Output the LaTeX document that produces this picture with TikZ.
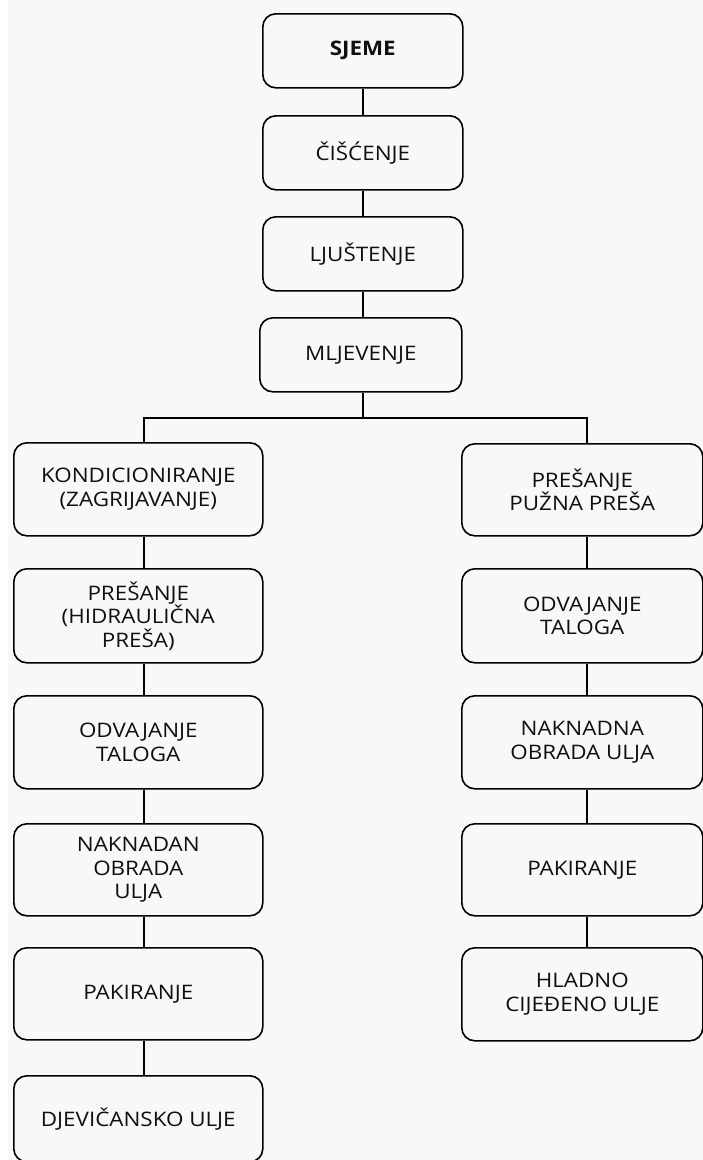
\documentclass[tikz,border=0pt]{standalone}
\usepackage{fontspec}
\setmainfont{Open Sans}[FakeStretch=1.12]
\definecolor{bg}{RGB}{248,248,248}
\definecolor{ink}{RGB}{15,15,15}
\begin{document}
\begin{tikzpicture}[x=1pt,y=-1pt,
  box/.style={draw=black, line width=1.6pt, rounded corners=13pt, align=center,
    font=\fontsize{20}{23.5}\selectfont, text=ink, inner sep=0pt, anchor=north west},
  topbox/.style={box, minimum width=200pt, minimum height=74pt},
  lbox/.style={box, minimum width=249pt},
  rbox/.style={box, minimum width=241pt},
  link/.style={line width=1.6pt, draw=black}]
\useasboundingbox (0,0) rectangle (703,1160);
\fill[white] (0,0) rectangle (703,1160);
\fill[bg] (8,0) rectangle (703,1160);
% top column
\node[topbox] (sjeme) at (262,13) {\textbf{SJEME}};
\node[topbox] (cis) at (262,115) {ČIŠĆENJE};
\node[topbox] (lju) at (262,216) {LJUŠTENJE};
\node[topbox, minimum width=202pt] (mlj) at (259,317) {MLJEVENJE};
% left column
\node[lbox, minimum height=93pt] (l1) at (13,442) {KONDICIONIRANJE\\(ZAGRIJAVANJE)};
\node[lbox, minimum height=94pt] (l2) at (13,568) {PREŠANJE\\(HIDRAULIČNA\\PREŠA)};
\node[lbox, minimum height=93pt] (l3) at (13,695) {ODVAJANJE\\TALOGA};
\node[lbox, minimum height=92pt] (l4) at (13,823) {NAKNADAN\\OBRADA\\ULJA};
\node[lbox, minimum height=92pt] (l5) at (13,947) {PAKIRANJE};
\node[lbox, minimum height=86pt] (l6) at (13,1075) {DJEVIČANSKO ULJE};
% right column
\node[rbox, minimum height=92pt] (r1) at (461,443) {PREŠANJE\\PUŽNA PREŠA};
\node[rbox, minimum height=94pt] (r2) at (461,568) {ODVAJANJE\\TALOGA};
\node[rbox, minimum height=93pt] (r3) at (461,695) {NAKNADNA\\OBRADA ULJA};
\node[rbox, minimum height=92pt] (r4) at (461,823) {PAKIRANJE};
\node[rbox, minimum height=93pt] (r5) at (461,947) {HLADNO\\CIJEĐENO ULJE};
% connectors
\coordinate (bl) at (144,418);
\coordinate (brr) at (587,418);
\draw[link] (sjeme) -- (cis);
\draw[link] (cis) -- (lju);
\draw[link] (lju.south) -- (lju.south |- mlj.north);
\draw[link] (lju.south |- mlj.south) -- (lju.south |- bl);
\draw[link] (l1.north -| bl) -- (bl) -- (brr) -- (r1.north -| brr);
\draw[link] (l1.south -| bl) -- (l2.north -| bl);
\draw[link] (l2.south -| bl) -- (l3.north -| bl);
\draw[link] (l3.south -| bl) -- (l4.north -| bl);
\draw[link] (l4.south -| bl) -- (l5.north -| bl);
\draw[link] (l5.south -| bl) -- (l6.north -| bl);
\draw[link] (r1.south -| brr) -- (r2.north -| brr);
\draw[link] (r2.south -| brr) -- (r3.north -| brr);
\draw[link] (r3.south -| brr) -- (r4.north -| brr);
\draw[link] (r4.south -| brr) -- (r5.north -| brr);
\end{tikzpicture}
\end{document}
